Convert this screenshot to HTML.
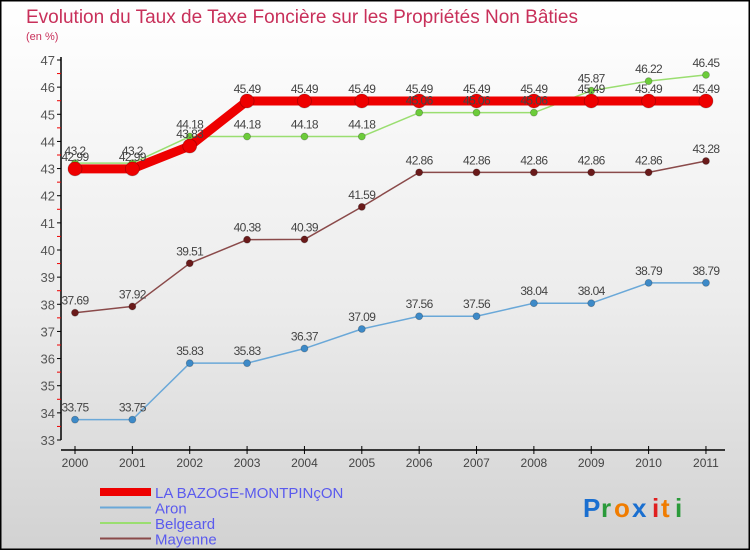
<!DOCTYPE html>
<html><head><meta charset="utf-8"><style>
html,body{margin:0;padding:0;}
body{width:750px;height:550px;overflow:hidden;}
svg{display:block;font-family:"Liberation Sans",sans-serif;}
</style></head><body>
<svg id="chart" width="750" height="550" xmlns="http://www.w3.org/2000/svg">
<defs>
<linearGradient id="bg" x1="0" y1="0" x2="0" y2="1">
<stop offset="0" stop-color="#ffffff"/><stop offset="0.55" stop-color="#ececec"/><stop offset="1" stop-color="#d2d2d2"/>
</linearGradient>
</defs>
<rect x="0" y="0" width="750" height="550" fill="url(#bg)"/>
<rect x="0.5" y="0.5" width="749" height="549" fill="none" stroke="#000" stroke-width="2"/>
<text x="26" y="23" font-size="19" fill="#c8305a" textLength="552" lengthAdjust="spacingAndGlyphs">Evolution du Taux de Taxe Foncière sur les Propriétés Non Bâties</text>
<text x="26" y="40" font-size="11" fill="#c8305a">(en %)</text>
<g id="axes"></g>
<g id="series"></g>
<g id="labels"></g>
<g id="legend"></g>
<g font-size="26" font-weight="bold">
<text x="583" y="517" fill="#1a6fd0">P</text><text x="601" y="517" fill="#2a9a3a">r</text><text x="614" y="517" fill="#f07c00">o</text><text x="632" y="517" fill="#1a6fd0">x</text><text x="652" y="517" fill="#e02020">i</text><text x="661" y="517" fill="#f07c00">t</text><text x="675" y="517" fill="#2a9a3a">i</text>
</g>
</svg>
<script>
const years = ["2000","2001","2002","2003","2004","2005","2006","2007","2008","2009","2010","2011"];
const bazoge = [42.99,42.99,43.83,45.49,45.49,45.49,45.49,45.49,45.49,45.49,45.49,45.49];
const aron = [33.75,33.75,35.83,35.83,36.37,37.09,37.56,37.56,38.04,38.04,38.79,38.79];
const belgeard = [43.2,43.2,44.18,44.18,44.18,44.18,45.06,45.06,45.06,45.87,46.22,46.45];
const mayenne = [37.69,37.92,39.51,40.38,40.39,41.59,42.86,42.86,42.86,42.86,42.86,43.28];
const yTicks = [33,34,35,36,37,38,39,40,41,42,43,44,45,46,47];
const seriesNames = ["LA BAZOGE-MONTPINçON","Aron","Belgeard","Mayenne"];

const NS="http://www.w3.org/2000/svg";
const xS=i=>75+i*57.36;
const yS=v=>440-(v-33)*(380/14);
function mk(tag,attrs,parent){const e=document.createElementNS(NS,tag);for(const k in attrs)e.setAttribute(k,attrs[k]);parent.appendChild(e);return e;}
const axes=document.getElementById('axes');
const ser=document.getElementById('series');
const lab=document.getElementById('labels');
const leg=document.getElementById('legend');

let a=mk('line',{x1:61,y1:yS(47)-3,x2:61,y2:yS(33),stroke:'#000','stroke-width':1.5},axes);


yTicks.forEach(v=>{
  let t=mk('line',{x1:57,x2:61,y1:yS(v),y2:yS(v),stroke:'#000'},axes);
  
  
  if(v<47){let m=mk('line',{x1:57,x2:61,y1:yS(v+0.5),y2:yS(v+0.5),stroke:'#e00'},axes);
  
  }
  let l=mk('text',{x:55,y:yS(v)+5,'font-size':13,fill:'#555','text-anchor':'end'},axes);
  l.textContent=v;
  
  
});
let xa=mk('line',{x1:61,y1:450,x2:725,y2:450,stroke:'#000','stroke-width':1.5},axes);


years.forEach((y,i)=>{
  let t=mk('line',{x1:xS(i),x2:xS(i),y1:446,y2:454,stroke:'#000'},axes);
  
  
  let l=mk('text',{x:xS(i),y:467,'font-size':12,fill:'#444','text-anchor':'middle'},axes);
  l.textContent=y;
  
  
});

function draw(data,color,w,r,name,ptColor){
  const g=mk('g',{},ser);
  
  
  let p=mk('polyline',{points:data.map((v,i)=>xS(i)+','+yS(v)).join(' '),fill:'none',stroke:color,'stroke-width':w,'stroke-linejoin':'round'},g);
  
  
  data.forEach((v,i)=>{
    let c=mk('circle',{cx:xS(i),cy:yS(v),r:r,fill:ptColor,stroke:'rgba(0,0,0,0.25)','stroke-width':0.8},g);
    
    
    let t=mk('text',{x:xS(i),y:yS(v)-8,'font-size':12,fill:'#444','text-anchor':'middle','letter-spacing':'-0.6'},lab);
    t.textContent=String(v);
    
    
  });
}
draw(aron,'#6aa8d8',1.5,3.5,'aron','#3d8ac8');
draw(mayenne,'#8a4a4a',1.5,3.5,'mayenne','#6a1a1a');
draw(belgeard,'#9ade70',1.5,3.5,'belgeard','#6ccc3a');
draw(bazoge,'#ee0000',9,7,'la-bazoge','#ee0000');

const legColors=['#ee0000','#6aa8d8','#9ade70','#8a4a4a'];
const legW=[8,2,2,2];
seriesNames.forEach((n,i)=>{
  const y=492+i*15.5;
  let l=mk('line',{x1:100,x2:151,y1:y,y2:y,stroke:legColors[i],'stroke-width':legW[i]},leg);
  
  
  let t=mk('text',{x:155,y:y+6,'font-size':15,fill:'#5a5aee'},leg);
  t.textContent=n;
  
  
});
</script>
</body></html>
